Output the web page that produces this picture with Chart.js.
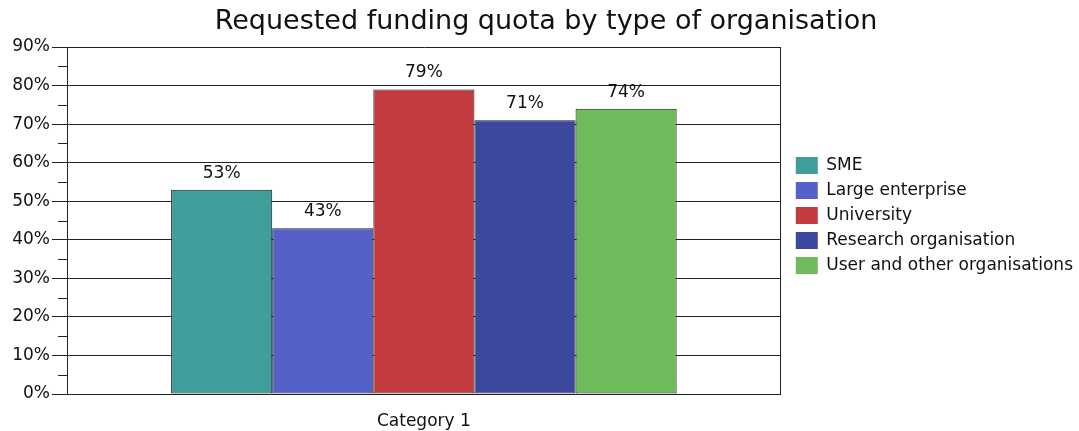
<!DOCTYPE html>
<html>
<head>
<meta charset="utf-8">
<script src="https://cdn.jsdelivr.net/npm/chart.js@4"></script>
<style>
  html, body { margin: 0; padding: 0; background: #fff; overflow: hidden; }
  canvas { display: block; }
</style>
</head>
<body>
<canvas id="myChart" width="1079" height="431"></canvas>
<script>
const categories = ['Category 1'];
const seriesNames = ['SME', 'Large enterprise', 'University', 'Research organisation', 'User and other organisations'];
const seriesValues = [53, 43, 79, 71, 74];
const seriesColors = ['#3f9e99', '#5560c8', '#c43b3f', '#3c479e', '#6fbb5b'];
const yTicks = [0, 10, 20, 30, 40, 50, 60, 70, 80, 90];
const yMinorTicks = [5, 15, 25, 35, 45, 55, 65, 75, 85];

const FONT = "'DejaVu Sans', Verdana, sans-serif";
const LINE = '#222';

// value labels above each bar
const barLabels = {
  id: 'barLabels',
  afterDatasetsDraw(chart) {
    const ctx = chart.ctx;
    ctx.save();
    ctx.font = '17px ' + FONT;
    ctx.fillStyle = '#111';
    ctx.textAlign = 'center';
    ctx.textBaseline = 'bottom';
    chart.data.datasets.forEach((ds, i) => {
      chart.getDatasetMeta(i).data.forEach((bar, j) => {
        ctx.fillText(ds.data[j] + '%', bar.x, bar.y - 8);
      });
    });
    ctx.restore();
  }
};

// short minor ticks on the y axis
const minorTicks = {
  id: 'minorTicks',
  afterDraw(chart) {
    const ctx = chart.ctx;
    const y = chart.scales.y;
    const left = chart.chartArea.left;
    ctx.save();
    ctx.strokeStyle = LINE;
    ctx.lineWidth = 1;
    ctx.beginPath();
    yMinorTicks.forEach(v => {
      const py = Math.round(y.getPixelForValue(v)) + 0.5;
      ctx.moveTo(left - 9, py);
      ctx.lineTo(left, py);
    });
    ctx.stroke();
    ctx.restore();
  }
};

const datasets = seriesNames.map((name, i) => ({
  label: name,
  data: [seriesValues[i]],
  backgroundColor: seriesColors[i],
  borderColor: '#1a1a1a',
  borderWidth: 1,
  borderSkipped: false,
  categoryPercentage: 505 / 713,
  barPercentage: 1.0
}));

const ctx = document.getElementById('myChart').getContext('2d');
const myChart = new Chart(ctx, {
  type: 'bar',
  data: { labels: categories, datasets: datasets },
  plugins: [barLabels, minorTicks],
  options: {
    responsive: false,
    animation: false,
    layout: { padding: { left: 9, right: -4, top: 0, bottom: 0 } },
    plugins: {
      title: {
        display: true,
        text: 'Requested funding quota by type of organisation',
        color: '#111',
        font: { family: FONT, size: 27, weight: 'normal' },
        padding: { top: 6, bottom: 8.6 }
      },
      legend: {
        position: 'right',
        maxWidth: 400,
        labels: {
          color: '#111',
          font: { family: FONT, size: 17 },
          boxWidth: 22,
          boxHeight: 17,
          padding: 8,
          generateLabels: (chart) => {
            const items = Chart.defaults.plugins.legend.labels.generateLabels(chart);
            items.forEach(it => { it.lineWidth = 0; it.strokeStyle = it.fillStyle; });
            return items;
          }
        }
      },
      tooltip: { enabled: false }
    },
    scales: {
      x: {
        grid: { display: false },
        border: { color: LINE },
        ticks: { color: '#111', font: { family: FONT, size: 17 }, padding: 9 },
        afterFit: (scale) => { scale.height = 37; }
      },
      y: {
        min: 0,
        max: 90,
        afterBuildTicks: (axis) => { axis.ticks = yTicks.map(v => ({ value: v })); },
        grid: { color: LINE, tickLength: 15, tickColor: LINE },
        border: { color: LINE },
        ticks: {
          color: '#111',
          font: { family: FONT, size: 17 },
          padding: 2,
          callback: (v) => v + '%'
        },
        afterFit: (scale) => { scale.width = 58; }
      },
      yRight: {
        position: 'right',
        min: 0,
        max: 90,
        grid: { drawOnChartArea: false, drawTicks: false },
        border: { color: LINE },
        ticks: { display: false },
        afterFit: (scale) => { scale.width = 7; }
      }
    }
  }
});
</script>
</body>
</html>
